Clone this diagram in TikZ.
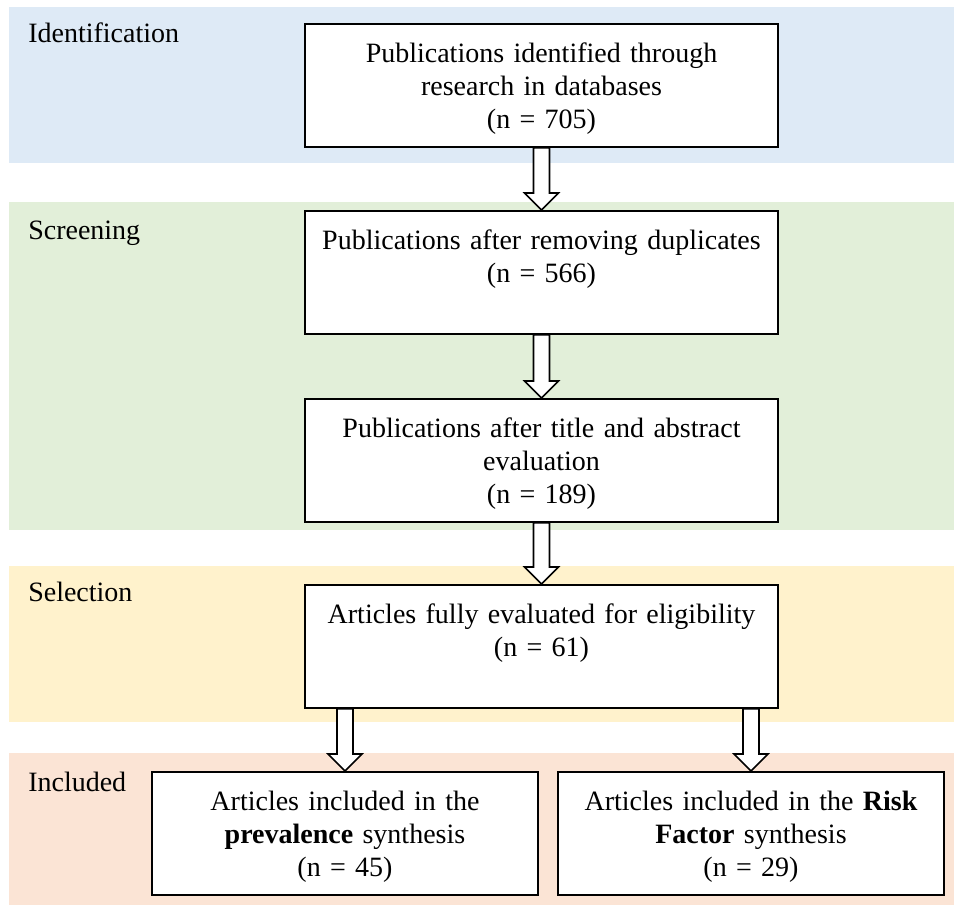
\documentclass[tikz,border=0pt]{standalone}
\usepackage{fontspec}
\setmainfont{Liberation Serif}
\usetikzlibrary{calc}
\definecolor{identblue}{HTML}{DEEAF6}
\definecolor{screengreen}{HTML}{E2EFD9}
\definecolor{selectyellow}{HTML}{FFF2CC}
\definecolor{includepink}{HTML}{FBE4D5}
\tikzset{
  flowbox/.style={draw, line width=1.4pt, fill=white, anchor=north, align=center,
    font=\fontsize{21}{24.75}\selectfont, inner xsep=8pt, inner ysep=10pt,
    text height=19.25pt, text depth=53pt},
  widebox/.style={flowbox, minimum width=354.75pt, text width=335pt},
  halfbox/.style={flowbox, minimum width=289.5pt, text width=270pt},
  bandlabel/.style={anchor=base west, inner sep=0pt, font=\fontsize{21}{24.75}\selectfont},
  blockarrow/.style={draw, fill=white, line width=1.2pt,
    to path={let \p1=(\tikztostart), \p2=(\tikztotarget) in
      (\x1-6pt,\y1) -- (\x1-6pt,\y2+12.75pt) -- (\x1-12.75pt,\y2+12.75pt) -- (\x1,\y2)
      -- (\x1+12.75pt,\y2+12.75pt) -- (\x1+6pt,\y2+12.75pt) -- (\x1+6pt,\y1) -- cycle}}
}
\begin{document}
\begin{tikzpicture}[x=0.75pt,y=-0.75pt]
\useasboundingbox (0,0) rectangle (954,905);
% stage bands
\fill[identblue] (9,7) rectangle (954,163);
\fill[screengreen] (9,202) rectangle (954,530);
\fill[selectyellow] (9,566) rectangle (954,722);
\fill[includepink] (9,753) rectangle (954,905);
\node[bandlabel] (identlbl) at (28,43) {Identification};
\node[bandlabel] (screenlbl) at (28,240) {Screening};
\node[bandlabel] (selectlbl) at (28,602) {Selection};
\node[bandlabel] (includelbl) at (28,791) {Included};
% boxes
\node[widebox] (found) at (541.5,23) {Publications identified through\\research in databases\\(n = 705)};
\node[widebox] (nodup) at (541.5,210) {Publications after removing duplicates\\(n = 566)};
\node[widebox] (abstr) at (541.5,398) {Publications after title and abstract\\evaluation\\(n = 189)};
\node[widebox] (full) at (541.5,584) {Articles fully evaluated for eligibility\\(n = 61)};
\node[halfbox] (preval) at (345,771) {Articles included in the\\\textbf{prevalence} synthesis\\(n = 45)};
\node[halfbox] (riskf) at (751,771) {Articles included in the \textbf{Risk}\\\textbf{Factor} synthesis\\(n = 29)};
% arrows
\draw[blockarrow] (found.south) to (nodup.north);
\draw[blockarrow] (nodup.south) to (abstr.north);
\draw[blockarrow] (abstr.south) to (full.north);
\draw[blockarrow] (full.south -| preval.north) to (preval.north);
\draw[blockarrow] (full.south -| riskf.north) to (riskf.north);
\end{tikzpicture}
\end{document}
